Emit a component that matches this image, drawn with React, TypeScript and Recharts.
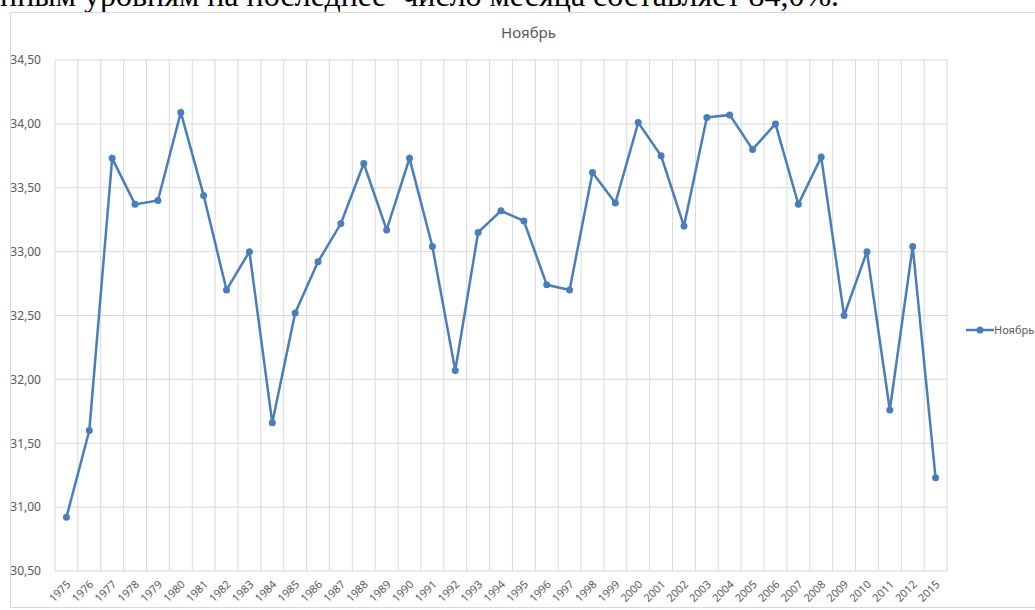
import React from "react";
import {
  CartesianGrid,
  Line,
  LineChart,
  XAxis,
  YAxis,
} from "recharts";

const years = [
  "1975", "1976", "1977", "1978", "1979", "1980", "1981", "1982", "1983", "1984",
  "1985", "1986", "1987", "1988", "1989", "1990", "1991", "1992", "1993", "1994",
  "1995", "1996", "1997", "1998", "1999", "2000", "2001", "2002", "2003", "2004",
  "2005", "2006", "2007", "2008", "2009", "2010", "2011", "2012", "2015",
];

const novemberValues = [
  30.92, 31.6, 33.73, 33.37, 33.4, 34.09, 33.44, 32.7, 33.0, 31.66,
  32.52, 32.92, 33.22, 33.69, 33.17, 33.73, 33.04, 32.07, 33.15, 33.32,
  33.24, 32.74, 32.7, 33.62, 33.38, 34.01, 33.75, 33.2, 34.05, 34.07,
  33.8, 34.0, 33.37, 33.74, 32.5, 33.0, 31.76, 33.04, 31.23,
];

const yTicks = [30.5, 31, 31.5, 32, 32.5, 33, 33.5, 34, 34.5];

const seriesName = "Ноябрь";
const introText = "нным уровням на последнее  число месяца составляет 84,0%.";

const data = years.map((year, i) => ({ idx: i, year, value: novemberValues[i] }));
const labelTicks = years.map((_, i) => i);
const gridTicks = [...years.map((_, i) => i - 0.5), years.length - 0.5];

const LINE_COLOR = "#4a7ebb";
const TEXT_COLOR = "#595959";
const FONT = "'Noto Sans', 'Open Sans', sans-serif";

function YearTick(props: any) {
  const { x, y, payload } = props;
  const ax = x + 5;
  const ay = y + 6;
  return (
    <text
      x={ax}
      y={ay}
      transform={`rotate(-45, ${ax}, ${ay})`}
      textAnchor="end"
      fontSize={11}
      fontFamily={FONT}
      fill={TEXT_COLOR}
    >
      {years[payload.value]}
    </text>
  );
}

function ChartLegend() {
  return (
    <div
      style={{
        position: "absolute",
        left: 966,
        top: 322,
        display: "flex",
        alignItems: "center",
        fontFamily: FONT,
        fontSize: 11,
        color: TEXT_COLOR,
        whiteSpace: "nowrap",
      }}
    >
      <svg width={28} height={10}>
        <line x1={0} y1={5} x2={28} y2={5} stroke={LINE_COLOR} strokeWidth={2.5} />
        <circle cx={14} cy={5} r={3.5} fill={LINE_COLOR} />
      </svg>
      <span>{seriesName}</span>
    </div>
  );
}

export default function App() {
  return (
    <div
      style={{
        position: "absolute",
        left: 0,
        top: 0,
        width: 1035,
        height: 610,
        overflow: "hidden",
        background: "#fff",
      }}
    >
      <div
        style={{
          position: "absolute",
          left: 0,
          top: -23,
          whiteSpace: "pre",
          fontFamily: "'Liberation Serif', serif",
          fontSize: 32,
          color: "#000",
        }}
      >
        {introText}
      </div>
      <div
        style={{
          position: "absolute",
          left: 10,
          top: 12,
          width: 1040,
          height: 596,
          border: "1px solid #d9d9d9",
          boxSizing: "border-box",
        }}
      />
      <div
        style={{
          position: "absolute",
          left: 0,
          top: 22,
          width: 1057,
          textAlign: "center",
          fontFamily: FONT,
          fontSize: 15,
          color: TEXT_COLOR,
        }}
      >
        {seriesName}
      </div>
      <div style={{ position: "absolute", left: 0, top: 0 }}>
        <LineChart
          width={1035}
          height={610}
          data={data}
          margin={{ top: 60, right: 88, bottom: 9, left: 10 }}
        >
          <CartesianGrid stroke="#d9d9d9" strokeWidth={1} xAxisId="grid" />
          <XAxis
            xAxisId="grid"
            orientation="top"
            type="number"
            dataKey="idx"
            domain={[-0.5, years.length - 0.5]}
            ticks={gridTicks}
            interval={0}
            height={0}
            hide
          />
          <XAxis
            xAxisId="labels"
            type="number"
            dataKey="idx"
            domain={[-0.5, years.length - 0.5]}
            ticks={labelTicks}
            interval={0}
            height={30}
            axisLine={false}
            tickLine={false}
            tick={<YearTick />}
          />
          <YAxis
            domain={[30.5, 34.5]}
            ticks={yTicks}
            width={45}
            axisLine={false}
            tickLine={false}
            tickMargin={8}
            tick={{ fontSize: 12, fontFamily: FONT, fill: TEXT_COLOR }}
            tickFormatter={(v: number) => v.toFixed(2).replace(".", ",")}
          />
          <Line
            xAxisId="labels"
            type="linear"
            dataKey="value"
            name={seriesName}
            stroke={LINE_COLOR}
            strokeWidth={2.5}
            dot={{ r: 3.5, fill: LINE_COLOR, stroke: LINE_COLOR, strokeWidth: 0 }}
            activeDot={false}
            isAnimationActive={false}
          />
        </LineChart>
      </div>
      <ChartLegend />
    </div>
  );
}
